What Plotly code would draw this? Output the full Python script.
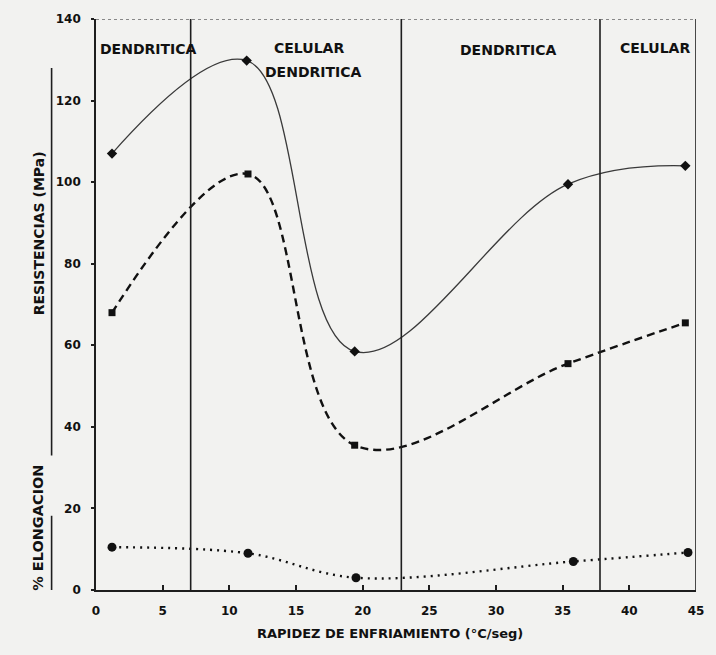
import plotly.graph_objects as go

# Cooling rate (°C/seg) and measured properties
rate_res = [1.2, 11.3, 19.4, 35.4, 44.2]
resistencia_max = [107, 129.8, 58.5, 99.5, 104]
rate_ced = [1.2, 11.4, 19.4, 35.4, 44.2]
resistencia_ced = [68, 102, 35.5, 55.5, 65.5]
rate_elong = [1.2, 11.4, 19.5, 35.8, 44.4]
elongacion = [10.5, 9.0, 3.0, 7.0, 9.2]

# Microstructure zone boundaries and labels (x, y, text, anchor)
zone_limits = [7.1, 22.9, 37.8]
zone_labels = [
    (3.95, 132.7, "DENDRITICA", "center"),
    (16.0, 132.9, "CELULAR", "center"),
    (16.3, 126.9, "DENDRITICA", "center"),
    (30.9, 132.5, "DENDRITICA", "center"),
    (44.7, 132.9, "CELULAR", "right"),
]

x_ticks = [0, 5, 10, 15, 20, 25, 30, 35, 40, 45]
y_ticks = [0, 20, 40, 60, 80, 100, 120, 140]

FONT = "DejaVu Sans"
INK = "#111111"

fig = go.Figure()

fig.add_trace(go.Scatter(
    x=rate_res, y=resistencia_max, mode="lines+markers",
    line=dict(color="#3a3a3a", width=1.3, shape="spline", smoothing=1.1),
    marker=dict(symbol="diamond", size=8, color=INK),
))
fig.add_trace(go.Scatter(
    x=rate_ced, y=resistencia_ced, mode="lines+markers",
    line=dict(color=INK, width=2.4, dash="8px,5px", shape="spline", smoothing=1.1),
    marker=dict(symbol="square", size=7, color=INK),
))
fig.add_trace(go.Scatter(
    x=rate_elong, y=elongacion, mode="lines+markers",
    line=dict(color=INK, width=2.4, dash="2px,5px", shape="spline", smoothing=1.0),
    marker=dict(symbol="circle", size=9, color=INK),
))

shapes = []
for xl in zone_limits:
    shapes.append(dict(type="line", xref="x", yref="y", x0=xl, x1=xl, y0=0, y1=140,
                       line=dict(color="#1e1e1e", width=1.6)))
# right border and dotted top border
shapes.append(dict(type="line", xref="x", yref="y", x0=45, x1=45, y0=0, y1=140,
                   line=dict(color="#1e1e1e", width=1.6)))
shapes.append(dict(type="line", xref="x", yref="y", x0=0, x1=45, y0=140, y1=140,
                   line=dict(color="#666666", width=1.5, dash="dot")))
# bracket lines beside the y-axis titles
shapes.append(dict(type="line", xref="paper", yref="y", x0=-0.074, x1=-0.074, y0=33, y1=128,
                   line=dict(color="#1e1e1e", width=1.6)))
shapes.append(dict(type="line", xref="paper", yref="y", x0=-0.074, x1=-0.074, y0=-0.5, y1=18.2,
                   line=dict(color="#1e1e1e", width=1.6)))

annotations = []
for xc, yc, txt, align in zone_labels:
    annotations.append(dict(x=xc, y=yc, xref="x", yref="y", text=txt, showarrow=False,
                            xanchor=align, yanchor="middle",
                            font=dict(family=FONT, size=14, color=INK, weight="bold")))
annotations.append(dict(x=-0.0947, y=87.5, xref="paper", yref="y", text="RESISTENCIAS (MPa)",
                        textangle=-90, showarrow=False, xanchor="center", yanchor="middle",
                        font=dict(family=FONT, size=14, color=INK, weight="bold")))
annotations.append(dict(x=-0.098, y=15.3, xref="paper", yref="y", text="% ELONGACION",
                        textangle=-90, showarrow=False, xanchor="center", yanchor="middle",
                        font=dict(family=FONT, size=14.5, color=INK, weight="bold")))
annotations.append(dict(x=0.49, y=-0.0764, xref="paper", yref="paper",
                        text="RAPIDEZ DE ENFRIAMIENTO (°C/seg)",
                        showarrow=False, xanchor="center", yanchor="middle",
                        font=dict(family=FONT, size=13, color=INK, weight="bold")))

fig.update_layout(
    width=716, height=655,
    margin=dict(l=96, r=12, t=14, b=65),
    paper_bgcolor="#f2f2f0", plot_bgcolor="#f2f2f0",
    showlegend=False,
    shapes=shapes, annotations=annotations,
    font=dict(family=FONT, color=INK),
)
fig.update_xaxes(
    range=[0, 45], tickvals=x_ticks, ticks="inside", ticklen=5, tickcolor="#1e1e1e",
    tickwidth=1.5, ticklabelstandoff=9,
    showline=True, linecolor="#1e1e1e", linewidth=1.6, showgrid=False, zeroline=False,
    tickfont=dict(family=FONT, size=12, color=INK, weight="bold"),
)
fig.update_yaxes(
    range=[0, 140], tickvals=y_ticks, ticks="outside", ticklen=3, tickcolor="#1e1e1e",
    tickwidth=1.5, ticklabelstandoff=8,
    showline=True, linecolor="#1e1e1e", linewidth=1.6, showgrid=False, zeroline=False,
    tickfont=dict(family=FONT, size=12, color=INK, weight="bold"),
)

fig.write_html("out.html")
